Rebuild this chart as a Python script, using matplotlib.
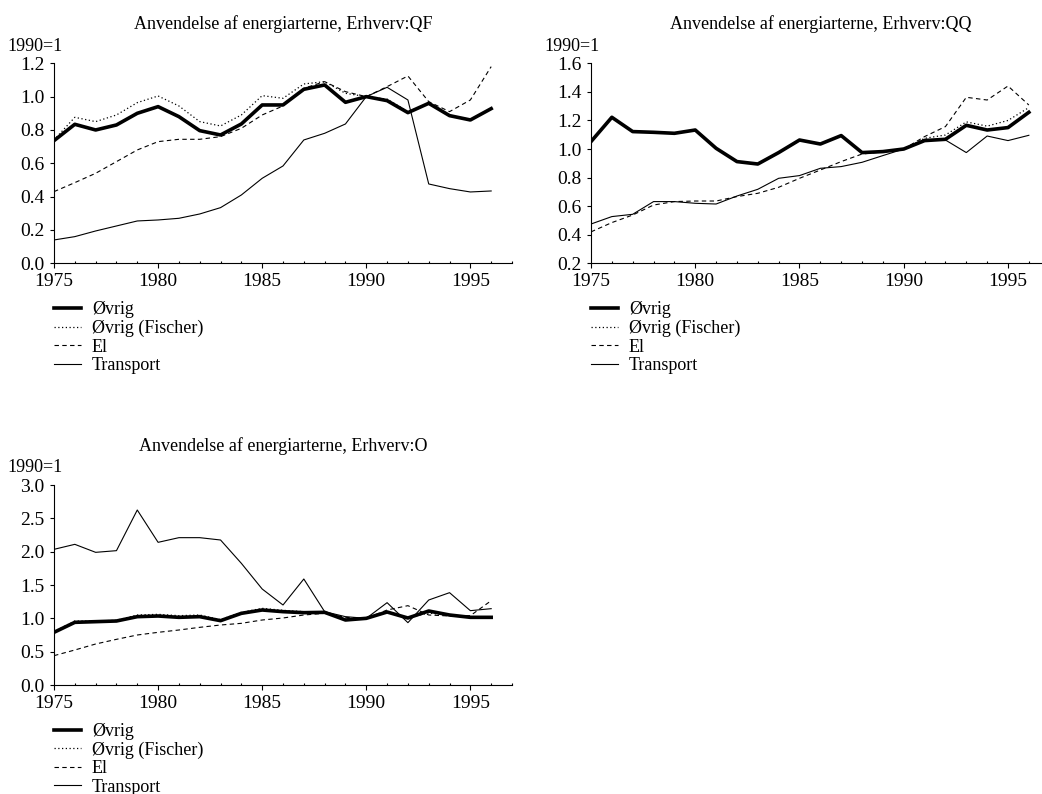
import numpy as np
import matplotlib.pyplot as plt
from matplotlib.ticker import MultipleLocator, FormatStrFormatter

plt.rcParams['font.family'] = ['Liberation Serif', 'DejaVu Serif']
plt.rcParams['font.size'] = 13

years = np.arange(1975, 1997)
labels = ['Øvrig', 'Øvrig (Fischer)', 'El', 'Transport']

# Erhverv QF
qf_ovrig = [0.736, 0.834, 0.80, 0.83, 0.90, 0.94, 0.88, 0.796, 0.77, 0.836, 0.95,
            0.95, 1.044, 1.07, 0.966, 1.0, 0.976, 0.904, 0.96, 0.886, 0.86, 0.928]
qf_fischer = [0.74, 0.876, 0.85, 0.89, 0.964, 1.004, 0.944, 0.85, 0.824, 0.89, 1.006,
              0.99, 1.076, 1.09, 1.02, 1.0, 0.985, 0.91, 0.96, 0.89, 0.862, 0.93]
qf_el = [0.43, 0.484, 0.54, 0.61, 0.68, 0.73, 0.744, 0.744, 0.76, 0.81, 0.89,
         0.944, 1.05, 1.09, 1.03, 1.0, 1.06, 1.124, 0.97, 0.91, 0.98, 1.18]
qf_transport = [0.14, 0.16, 0.194, 0.224, 0.254, 0.26, 0.27, 0.296, 0.334, 0.41, 0.51,
                0.584, 0.74, 0.78, 0.836, 1.0, 1.056, 0.98, 0.476, 0.448, 0.428, 0.434]

# Erhverv QQ
qq_ovrig = [1.052, 1.222, 1.122, 1.117, 1.11, 1.133, 1.005, 0.912, 0.895, 0.975, 1.063,
            1.035, 1.094, 0.975, 0.982, 1.0, 1.059, 1.068, 1.166, 1.133, 1.15, 1.257]
qq_fischer = [1.052, 1.222, 1.122, 1.117, 1.11, 1.133, 1.005, 0.912, 0.895, 0.975, 1.063,
              1.035, 1.094, 0.975, 0.982, 1.0, 1.075, 1.098, 1.19, 1.16, 1.2, 1.29]
qq_el = [0.42, 0.485, 0.538, 0.608, 0.632, 0.636, 0.636, 0.667, 0.69, 0.732, 0.795,
         0.853, 0.912, 0.965, 0.98, 1.0, 1.087, 1.157, 1.362, 1.343, 1.441, 1.308]
qq_transport = [0.475, 0.527, 0.543, 0.632, 0.632, 0.62, 0.615, 0.671, 0.718, 0.795, 0.814,
                0.865, 0.877, 0.907, 0.954, 1.0, 1.068, 1.063, 0.975, 1.091, 1.059, 1.096]

# Erhverv O
o_ovrig = [0.79, 0.94, 0.95, 0.96, 1.025, 1.035, 1.015, 1.025, 0.965, 1.075, 1.125,
           1.10, 1.085, 1.09, 0.975, 1.0, 1.095, 1.005, 1.11, 1.05, 1.015, 1.015]
o_fischer = [0.80, 0.96, 0.96, 0.97, 1.05, 1.06, 1.04, 1.05, 0.98, 1.09, 1.15,
             1.12, 1.10, 1.09, 0.985, 1.0, 1.10, 1.01, 1.08, 1.04, 1.02, 1.02]
o_el = [0.44, 0.525, 0.615, 0.685, 0.75, 0.79, 0.825, 0.865, 0.90, 0.925, 0.975,
        1.005, 1.05, 1.075, 1.015, 1.0, 1.125, 1.19, 1.05, 1.035, 1.04, 1.265]
o_transport = [2.035, 2.11, 1.99, 2.015, 2.625, 2.14, 2.21, 2.21, 2.175, 1.825, 1.44,
               1.2, 1.59, 1.10, 1.025, 1.0, 1.235, 0.935, 1.275, 1.385, 1.115, 1.145]

W, H = 1042, 794
fig = plt.figure(figsize=(W / 100, H / 100), dpi=100)


def px_axes(left, right, top, bottom):
    return fig.add_axes([left / W, 1 - bottom / H, (right - left) / W, (bottom - top) / H])


def panel(ax, name, ovrig, fischer, el, transport, ylim, ystep):
    ax.plot(years, transport, color='black', lw=0.8, ls='-', label=labels[3], zorder=2)
    ax.plot(years, el, color='black', lw=0.8, ls=(0, (4, 3)), label=labels[2], zorder=3)
    ax.plot(years, fischer, color='black', lw=0.9, ls=(0, (1, 2)), label=labels[1], zorder=4)
    ax.plot(years, ovrig, color='black', lw=2.6, ls='-', label=labels[0], zorder=5)
    ax.set_xlim(1975, 1997)
    ax.set_ylim(*ylim)
    ax.xaxis.set_major_locator(MultipleLocator(5))
    ax.xaxis.set_minor_locator(MultipleLocator(1))
    ax.yaxis.set_major_locator(MultipleLocator(ystep))
    ax.yaxis.set_major_formatter(FormatStrFormatter('%.1f'))
    ax.spines['top'].set_visible(False)
    ax.spines['right'].set_visible(False)
    ax.tick_params(axis='x', which='major', direction='out', length=3.5, width=0.8,
                   labelsize=14, pad=3.4)
    ax.tick_params(axis='x', which='minor', direction='in', length=1.8, width=0.8)
    ax.tick_params(axis='y', direction='out', length=3, width=0.8, labelsize=14, pad=4)
    ax.set_title('Anvendelse af energiarterne, Erhverv:' + name, fontsize=13, pad=24.5)
    ax.text(-0.102, 1.085, '1990=1', transform=ax.transAxes, fontsize=13,
            ha='left', va='center')
    handles, labs = ax.get_legend_handles_labels()
    order = [3, 2, 1, 0]
    ax.legend([handles[i] for i in order], [labs[i] for i in order],
              loc='upper left', bbox_to_anchor=(0, -0.19), frameon=False,
              handlelength=1.5, handletextpad=0.6, labelspacing=0.08,
              borderpad=0, borderaxespad=0, fontsize=13)


ax1 = px_axes(54, 512, 63.3, 263.3)
panel(ax1, 'QF', qf_ovrig, qf_fischer, qf_el, qf_transport, (0.0, 1.2), 0.2)

ax2 = px_axes(591, 1049.7, 63.3, 263.3)
panel(ax2, 'QQ', qq_ovrig, qq_fischer, qq_el, qq_transport, (0.2, 1.6), 0.2)

ax3 = px_axes(54, 512, 485, 685)
panel(ax3, 'O', o_ovrig, o_fischer, o_el, o_transport, (0.0, 3.0), 0.5)

fig.savefig('out.png', dpi=100)
